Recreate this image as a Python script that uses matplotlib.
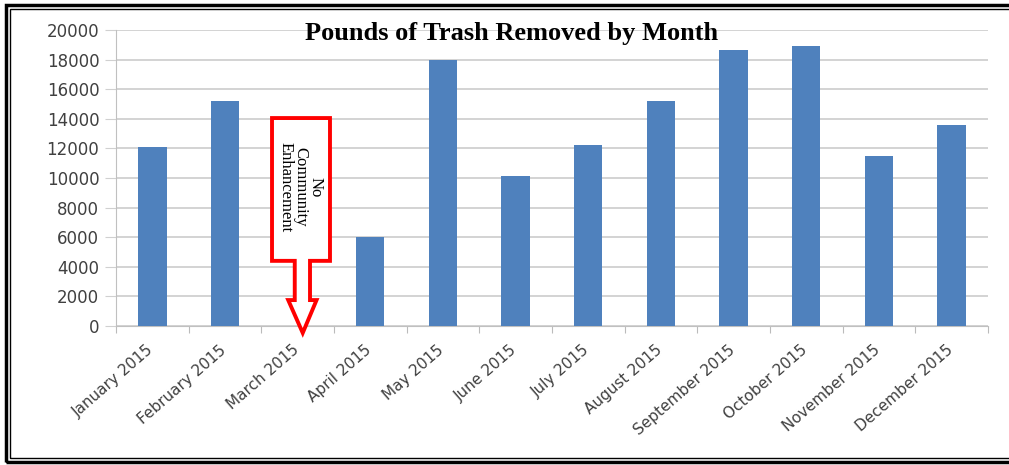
import matplotlib.pyplot as plt
import numpy as np
from matplotlib.patches import Polygon, Rectangle

# data
months = ["January 2015", "February 2015", "March 2015", "April 2015",
          "May 2015", "June 2015", "July 2015", "August 2015",
          "September 2015", "October 2015", "November 2015", "December 2015"]
pounds = [12100, 15200, 0, 6000, 18000, 10100, 12200, 15200, 18650, 18900, 11500, 13600]
y_ticks = list(range(0, 20001, 2000))

fig = plt.figure(figsize=(10.09, 4.65), dpi=100)
ax = fig.add_axes([0.115, 0.299, 0.864, 0.6365])

x = np.arange(len(months))
ax.bar(x, pounds, width=0.39, color="#4F81BD", zorder=3)

ax.set_xlim(-0.5, len(months) - 0.5)
ax.set_ylim(0, 20000)
ax.set_yticks(y_ticks)
ax.set_yticklabels([str(v) for v in y_ticks], fontsize=12, color="#404040")
ax.grid(axis="y", color="#d0d0d0", linewidth=1.3, zorder=0)
ax.tick_params(axis="y", length=8, color="#d0d0d0", pad=4)

# excel-style category ticks at boundaries
ax.set_xticks(np.arange(-0.5, len(months) + 0.5, 1.0))
ax.set_xticklabels([])
ax.tick_params(axis="x", length=5, color="#bbbbbb", direction="out")
for i, m in enumerate(months):
    ax.text(i - 0.08, -1100, m, rotation=41, ha="right", va="top",
            rotation_mode="anchor", fontsize=11, color="#404040")

for side in ["top", "right"]:
    ax.spines[side].set_visible(False)
ax.spines["left"].set_color("#c0c0c0")
ax.spines["bottom"].set_color("#c0c0c0")

# callout for March
bx0, bx1, byt, byb = 1.647, 2.445, 14050, 4400
sx0, sx1, yh = 1.96, 2.17, 1750
hx0, hx1, tip_x, tip_y = 1.87, 2.26, 2.07, -470
callout = Polygon([(bx0, byt), (bx1, byt), (bx1, byb), (sx1, byb), (sx1, yh),
                   (hx1, yh), (tip_x, tip_y), (hx0, yh), (sx0, yh), (sx0, byb),
                   (bx0, byb)], closed=True, facecolor="white", edgecolor="#ff0000",
                  linewidth=2.8, clip_on=False, zorder=5)
ax.add_patch(callout)
ax.text(2.04, 9400, "No\nCommunity\nEnhancement", rotation=270,
        ha="center", va="center", multialignment="center", fontsize=12,
        family="Liberation Serif", linespacing=0.95, zorder=6)

fig.text(0.507, 0.928, "Pounds of Trash Removed by Month", ha="center", va="center",
         fontsize=19, fontweight="bold", family="Liberation Serif")

# double frame, right side runs off the image
fig.patches.append(Rectangle((0.0055, 0.007), 1.1, 0.983, transform=fig.transFigure,
                             fill=False, edgecolor="black", linewidth=2.5))
fig.patches.append(Rectangle((0.0100, 0.0145), 1.1, 0.9665, transform=fig.transFigure,
                             fill=False, edgecolor="black", linewidth=1.0))

fig.savefig("out.png", dpi=100)
